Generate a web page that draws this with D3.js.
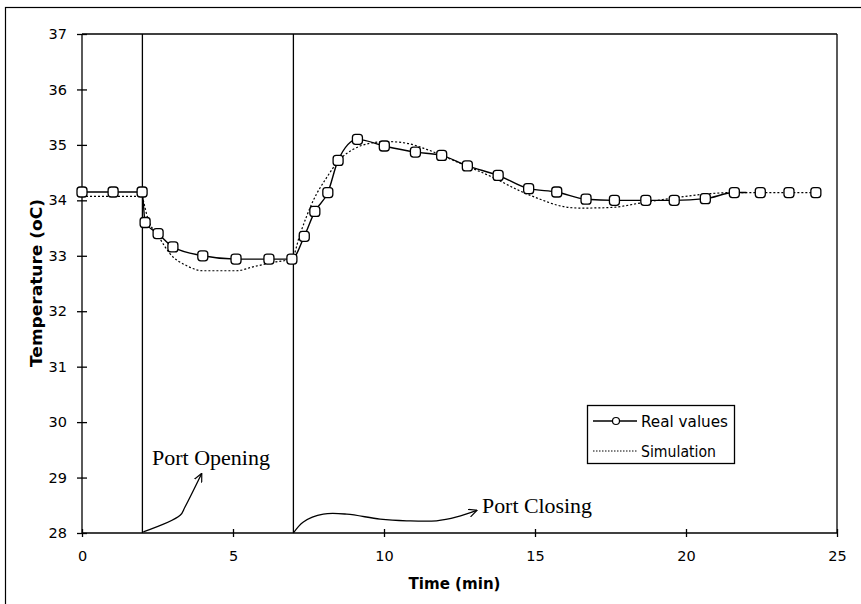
<!DOCTYPE html>
<html><head><meta charset="utf-8">
<script src="https://cdn.jsdelivr.net/npm/d3@7"></script>
<style>html,body{margin:0;padding:0;background:#fff;}svg{display:block;}</style>
</head><body>
<script>
const realX = [0, 1.03, 1.99, 2.09, 2.52, 3.01, 4.0, 5.1, 6.19, 6.95, 7.36, 7.71, 8.14, 8.48, 9.12, 10.01, 11.04, 11.91, 12.76, 13.78, 14.79, 15.72, 16.69, 17.63, 18.67, 19.61, 20.64, 21.6, 22.46, 23.41, 24.3];
const realY = [34.15, 34.15, 34.15, 33.6, 33.4, 33.16, 33.0, 32.94, 32.94, 32.94, 33.35, 33.8, 34.14, 34.72, 35.1, 34.98, 34.87, 34.81, 34.62, 34.45, 34.21, 34.15, 34.02, 34.0, 34.0, 34.0, 34.03, 34.14, 34.14, 34.14, 34.14];
const realSolidEnd = 22.0;
const simX = [0, 1.99, 2.05, 2.14, 2.58, 2.91, 3.47, 4.0, 5.12, 5.66, 6.32, 6.95, 7.22, 7.66, 8.1, 8.54, 8.98, 9.54, 10.09, 10.75, 11.41, 12.08, 12.74, 13.62, 14.5, 15.17, 15.83, 16.49, 17.48, 18.59, 19.69, 20.57, 21.57, 22.46, 23.41, 24.3];
const simY = [34.07, 34.07, 33.95, 33.75, 33.31, 33.04, 32.82, 32.73, 32.73, 32.8, 32.88, 32.95, 33.39, 34.0, 34.41, 34.74, 34.92, 35.03, 35.06, 35.03, 34.92, 34.77, 34.62, 34.41, 34.17, 34.02, 33.9, 33.86, 33.87, 33.96, 34.05, 34.11, 34.14, 34.14, 34.14, 34.14];
const xTicks = [0, 5, 10, 15, 20, 25];
const yTicks = [28, 29, 30, 31, 32, 33, 34, 35, 36, 37];
const events = [2, 7];
const seriesNames = ["Real values", "Simulation"];
const xTitle = "Time (min)";
const yTitle = "Temperature (oC)";
const openLabel = "Port Opening";
const closeLabel = "Port Closing";
const openArrowX = [2.03, 3.25, 3.41, 3.96];
const openArrowY = [28.02, 28.32, 28.47, 29.07];
const closeArrowX = [7.0, 7.33, 7.99, 8.77, 9.87, 10.75, 11.74, 12.41, 13.07];
const closeArrowY = [28.0, 28.2, 28.34, 28.34, 28.25, 28.22, 28.22, 28.29, 28.41];

const W = 861, H = 604;
const L = 82, R = 837, T = 34, B = 533;
const svg = d3.select("body").append("svg").attr("width", W).attr("height", H);
svg.append("rect").attr("width", W).attr("height", H).attr("fill", "#fff");
svg.append("rect").attr("x", 5.5).attr("y", 7.5).attr("width", 900).attr("height", 700)
  .attr("fill", "none").attr("stroke", "#000").attr("stroke-width", 1.2);

const x = d3.scaleLinear().domain([0, 25]).range([L, R]);
const y = d3.scaleLinear().domain([28, 37]).range([B, T]);

const defs = svg.append("defs");
defs.append("marker").attr("id", "ah").attr("viewBox", "0 0 10 10").attr("refX", 9).attr("refY", 5)
  .attr("markerWidth", 9).attr("markerHeight", 9).attr("markerUnits", "userSpaceOnUse").attr("orient", "auto")
  .append("path").attr("d", "M0,0.5 L9.5,5 L0,9.5").attr("fill", "none").attr("stroke", "#000").attr("stroke-width", 1.3);

svg.append("line").attr("x1", L).attr("x2", R).attr("y1", T).attr("y2", T).attr("stroke", "#000").attr("stroke-width", 1.3);
svg.append("line").attr("x1", R).attr("x2", R).attr("y1", T).attr("y2", B).attr("stroke", "#000").attr("stroke-width", 1.3);

const yAxis = d3.axisLeft(y).tickValues(yTicks).tickSize(10).tickFormat(d3.format("d"));
const gy = svg.append("g").attr("transform", `translate(${L},0)`).call(yAxis);
gy.selectAll(".tick line").attr("transform", "translate(5,0)").attr("stroke-width", 1.3);
gy.select(".domain").attr("stroke-width", 1.3).attr("d", `M0,${B}V${T}`);
gy.selectAll(".tick text").attr("x", -15).attr("font-family", "'DejaVu Sans', Arial, sans-serif").attr("font-size", 14.5).attr("fill", "#000");

const xAxis = d3.axisBottom(x).tickValues(xTicks).tickSize(8).tickFormat(d3.format("d"));
const gx = svg.append("g").attr("transform", `translate(0,${B})`).call(xAxis);
gx.selectAll(".tick line").attr("transform", "translate(0,-4)").attr("stroke-width", 1.3);
gx.select(".domain").attr("stroke-width", 1.3).attr("d", `M${L},0H${R}`);
gx.selectAll(".tick text").attr("y", 18).attr("font-family", "'DejaVu Sans', Arial, sans-serif").attr("font-size", 14.5).attr("fill", "#000");

svg.append("text").attr("x", x(12.5) - 5).attr("y", 589).attr("text-anchor", "middle")
  .attr("font-family", "'DejaVu Sans', Arial, sans-serif").attr("font-weight", "bold").attr("font-size", 15)
  .attr("textLength", 92).attr("lengthAdjust", "spacingAndGlyphs").text(xTitle);
svg.append("text").attr("transform", `translate(42,${283}) rotate(-90)`).attr("text-anchor", "middle")
  .attr("font-family", "'DejaVu Sans', Arial, sans-serif").attr("font-weight", "bold").attr("font-size", 15)
  .attr("textLength", 168).attr("lengthAdjust", "spacingAndGlyphs").text(yTitle);

svg.selectAll(".ev").data(events).enter().append("line")
  .attr("x1", d => x(d)).attr("x2", d => x(d)).attr("y1", y(28)).attr("y2", y(37))
  .attr("stroke", "#000").attr("stroke-width", 1.3);

const simData = simX.map((v, i) => [v, simY[i]]);
const realData = realX.map((v, i) => [v, realY[i]]);
const line = d3.line().x(d => x(d[0])).y(d => y(d[1])).curve(d3.curveMonotoneX);
svg.append("path").attr("d", line(simData)).attr("fill", "none").attr("stroke", "#000")
  .attr("stroke-width", 1.2).attr("stroke-dasharray", "2,2");
const realSolid = realData.filter(d => d[0] <= 21.7).concat([[realSolidEnd, 34.14]]);
svg.append("path").attr("d", line(realSolid)).attr("fill", "none").attr("stroke", "#000").attr("stroke-width", 1.4);
svg.selectAll(".pt").data(realData).enter().append("rect")
  .attr("x", d => x(d[0]) - 5).attr("y", d => y(d[1]) - 5).attr("width", 10).attr("height", 10)
  .attr("rx", 3).attr("fill", "#fff").attr("stroke", "#000").attr("stroke-width", 1.3);

const aline = d3.line().x(d => x(d[0])).y(d => y(d[1])).curve(d3.curveCatmullRom);
svg.append("path").attr("d", aline(openArrowX.map((v, i) => [v, openArrowY[i]])))
  .attr("fill", "none").attr("stroke", "#000").attr("stroke-width", 1.3).attr("marker-end", "url(#ah)");
svg.append("path").attr("d", aline(closeArrowX.map((v, i) => [v, closeArrowY[i]])))
  .attr("fill", "none").attr("stroke", "#000").attr("stroke-width", 1.3).attr("marker-end", "url(#ah)");
svg.append("text").attr("x", 152).attr("y", 465).attr("font-family", "'Liberation Serif', 'Times New Roman', serif")
  .attr("font-size", 20).attr("textLength", 118).attr("lengthAdjust", "spacingAndGlyphs").text(openLabel);
svg.append("text").attr("x", 482).attr("y", 513).attr("font-family", "'Liberation Serif', 'Times New Roman', serif")
  .attr("font-size", 20).attr("textLength", 110).attr("lengthAdjust", "spacingAndGlyphs").text(closeLabel);

const lg = svg.append("g");
lg.append("rect").attr("x", 587.5).attr("y", 405.5).attr("width", 147).attr("height", 58)
  .attr("fill", "#fff").attr("stroke", "#000").attr("stroke-width", 1.3);
const lys = [421, 451];
lg.append("line").attr("x1", 593).attr("x2", 637).attr("y1", lys[0]).attr("y2", lys[0]).attr("stroke", "#000").attr("stroke-width", 1.3);
lg.append("circle").attr("cx", 616).attr("cy", lys[0]).attr("r", 3.5).attr("fill", "#fff").attr("stroke", "#000").attr("stroke-width", 1.2);
lg.append("line").attr("x1", 593).attr("x2", 637).attr("y1", lys[1]).attr("y2", lys[1]).attr("stroke", "#000").attr("stroke-width", 1).attr("stroke-dasharray", "1.5,1.5");
lg.selectAll(".lt").data(seriesNames).enter().append("text")
  .attr("x", 641).attr("y", (d, i) => lys[i] + 5.5)
  .attr("font-family", "'DejaVu Sans', Arial, sans-serif").attr("font-size", 15)
  .attr("textLength", (d, i) => i === 0 ? 87 : 75).attr("lengthAdjust", "spacingAndGlyphs").text(d => d);
</script>
</body></html>
